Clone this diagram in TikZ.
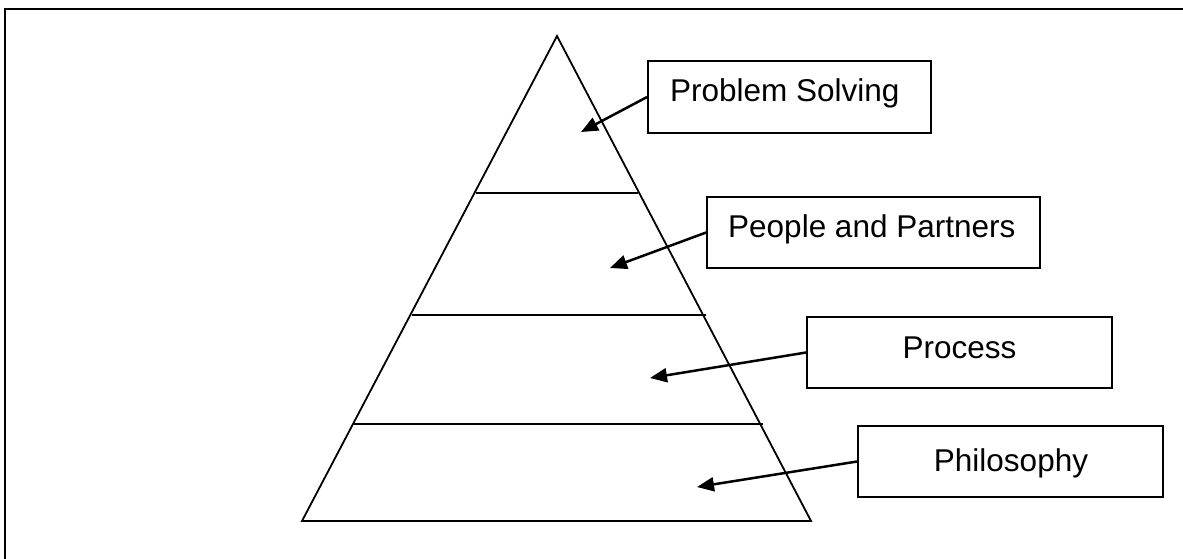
\documentclass[tikz,border=0pt]{standalone}
\usepackage{fontspec}
\setmainfont{Liberation Sans}
\usetikzlibrary{arrows.meta}
\begin{document}
\begin{tikzpicture}[x=1pt,y=-1pt,
  frameline/.style={line width=2.4pt},
  shapeline/.style={line width=1.8pt, line join=miter},
  box/.style={draw, line width=1.8pt, rectangle, inner sep=0pt},
  labeltext/.style={inner sep=0pt, font=\fontsize{31.5}{36}\selectfont},
  pointer/.style={line width=2.5pt, -{Triangle[length=17pt,width=14pt]}}]
  \useasboundingbox (0,0) rectangle (1183,559);
  % outer frame (only top and left edges fall on the page)
  \draw[frameline] (5,559) -- (5,9) -- (1183,9);
  % pyramid outline and tier dividers
  \draw[shapeline] (302,521) -- (557,36) -- (811,521) -- cycle;
  \draw[shapeline] (476,193) -- (638,193);
  \draw[shapeline] (412,315) -- (706,315);
  \draw[shapeline] (354,424) -- (763,424);
  % label boxes
  \node[box, minimum width=283pt, minimum height=72pt] (b1) at (789.5,97) {};
  \node[box, minimum width=333pt, minimum height=71pt] (b2) at (873.5,232.5) {};
  \node[box, minimum width=305pt, minimum height=71pt] (b3) at (959.5,352.5) {};
  \node[box, minimum width=305pt, minimum height=71pt] (b4) at (1010.5,461.5) {};
  % labels
  \node[labeltext, anchor=base west] (l1) at (670,102) {Problem Solving};
  \node[labeltext, anchor=base west] (l2) at (728,237) {People and Partners};
  \node[labeltext, anchor=base] (l3) at (959.5,358) {Process};
  \node[labeltext, anchor=base] (l4) at (1011,471) {Philosophy};
  % arrow tips inside the tiers
  \coordinate (t1) at (581,132);
  \coordinate (t2) at (610,268);
  \coordinate (t3) at (650,378);
  \coordinate (t4) at (697,487);
  \draw[pointer] (b1.west) -- (t1);
  \draw[pointer] (b2.west) -- (t2);
  \draw[pointer] (b3.west) -- (t3);
  \draw[pointer] (b4.west) -- (t4);
\end{tikzpicture}
\end{document}
